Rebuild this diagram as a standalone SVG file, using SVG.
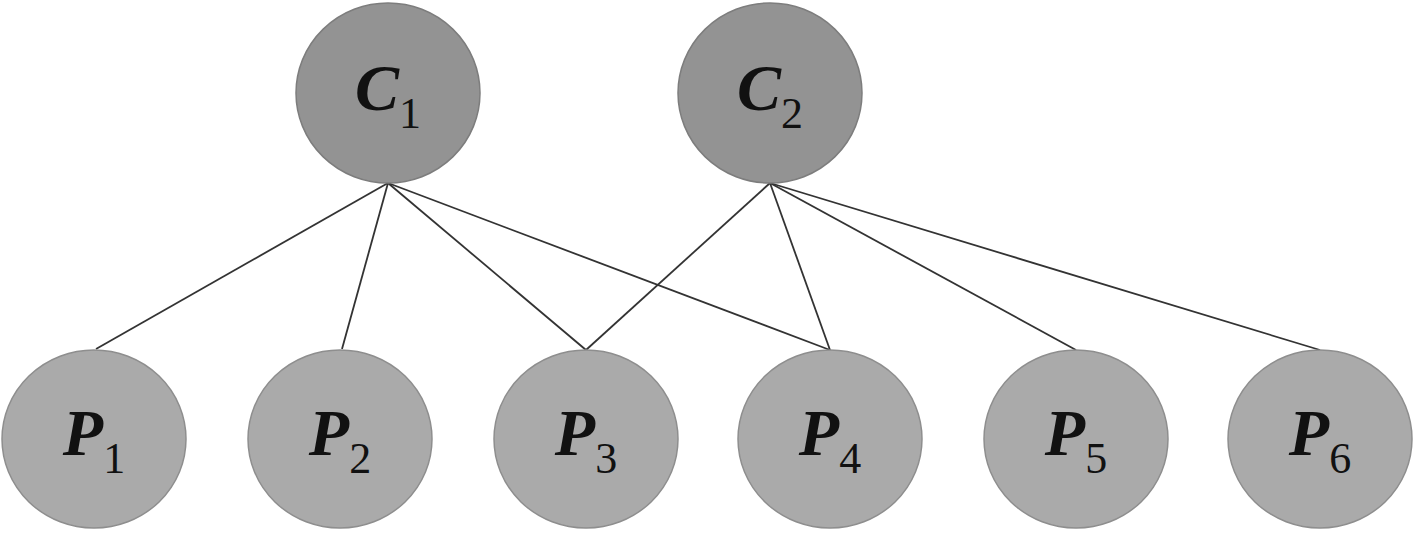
<svg xmlns="http://www.w3.org/2000/svg" width="1416" height="534" viewBox="0 0 1416 534">
<style>
  .c { fill: #939393; stroke: #7d7d7d; stroke-width: 1.5; }
  .p { fill: #aaaaaa; stroke: #8e8e8e; stroke-width: 1.5; }
  .lbl { font-family: "Liberation Serif", "Times New Roman", serif; fill: #111; text-anchor: middle; }
  .m { font-weight: bold; font-style: italic; font-size: 66px; }
  .s { font-size: 44px; font-weight: normal; font-style: normal; }
  .edge { stroke: #333; stroke-width: 1.8; fill: none; }
</style>
<rect width="1416" height="534" fill="#ffffff"/>
<g id="connectors">
  <line class="edge" x1="388" y1="183" x2="96" y2="349"/>
  <line class="edge" x1="388" y1="183" x2="342" y2="349"/>
  <line class="edge" x1="388" y1="183" x2="586" y2="350"/>
  <line class="edge" x1="388" y1="183" x2="830" y2="350"/>
  <line class="edge" x1="770" y1="183" x2="586" y2="350"/>
  <line class="edge" x1="770" y1="183" x2="830" y2="350"/>
  <line class="edge" x1="770" y1="183" x2="1076" y2="350"/>
  <line class="edge" x1="770" y1="183" x2="1320" y2="350"/>
</g>
<g id="C1">
  <ellipse class="c" cx="388" cy="93" rx="92" ry="90"/>
  <text class="lbl" x="388" y="110"><tspan class="m">C</tspan><tspan class="s" dy="18">1</tspan></text>
</g>
<g id="C2">
  <ellipse class="c" cx="770" cy="93" rx="92" ry="90"/>
  <text class="lbl" x="770" y="110"><tspan class="m">C</tspan><tspan class="s" dy="18">2</tspan></text>
</g>
<g id="P1">
  <ellipse class="p" cx="94" cy="439" rx="92" ry="89"/>
  <text class="lbl" x="94" y="455"><tspan class="m">P</tspan><tspan class="s" dy="18">1</tspan></text>
</g>
<g id="P2">
  <ellipse class="p" cx="340" cy="439" rx="92" ry="89"/>
  <text class="lbl" x="340" y="455"><tspan class="m">P</tspan><tspan class="s" dy="18">2</tspan></text>
</g>
<g id="P3">
  <ellipse class="p" cx="586" cy="439" rx="92" ry="89"/>
  <text class="lbl" x="586" y="455"><tspan class="m">P</tspan><tspan class="s" dy="18">3</tspan></text>
</g>
<g id="P4">
  <ellipse class="p" cx="830" cy="439" rx="92" ry="89"/>
  <text class="lbl" x="830" y="455"><tspan class="m">P</tspan><tspan class="s" dy="18">4</tspan></text>
</g>
<g id="P5">
  <ellipse class="p" cx="1076" cy="439" rx="92" ry="89"/>
  <text class="lbl" x="1076" y="455"><tspan class="m">P</tspan><tspan class="s" dy="18">5</tspan></text>
</g>
<g id="P6">
  <ellipse class="p" cx="1320" cy="439" rx="92" ry="89"/>
  <text class="lbl" x="1320" y="455"><tspan class="m">P</tspan><tspan class="s" dy="18">6</tspan></text>
</g>
</svg>
